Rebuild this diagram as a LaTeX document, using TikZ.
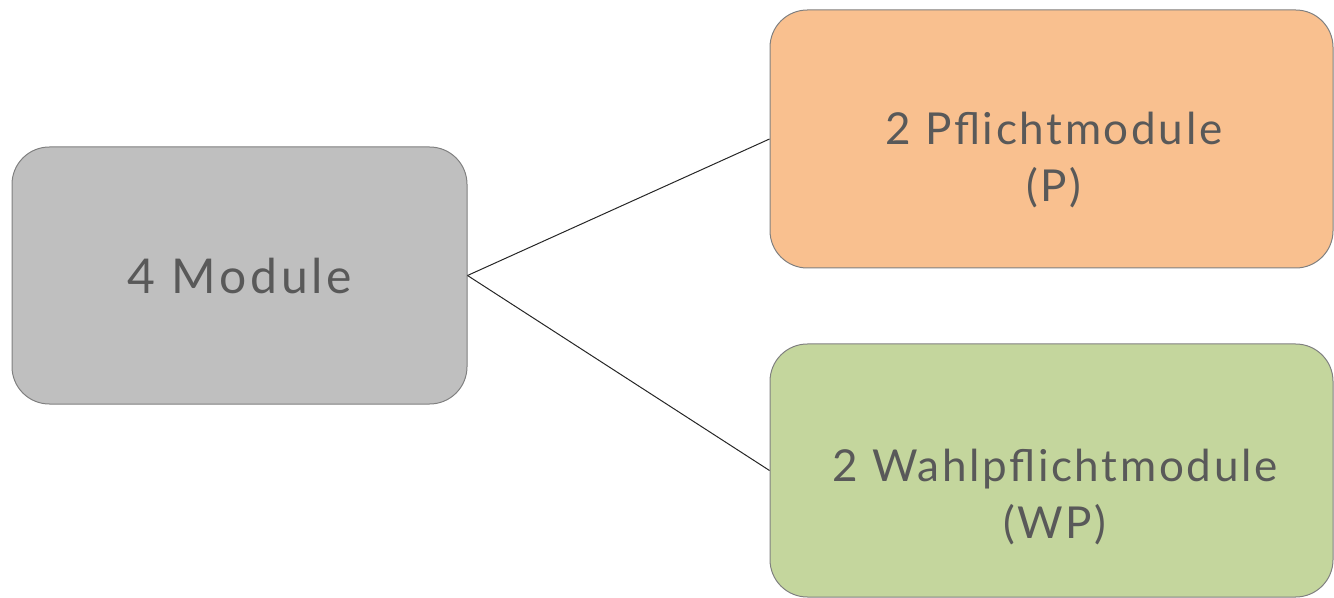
\documentclass[tikz,border=0pt]{standalone}
\usepackage{fontspec}
\setsansfont{Lato}[LetterSpace=8]
\newfontfamily\sidefont{Lato}[LetterSpace=6]
\definecolor{boxgray}{RGB}{191,191,191}
\definecolor{boxorange}{RGB}{249,192,143}
\definecolor{boxgreen}{RGB}{196,214,157}
\definecolor{txtgray}{RGB}{89,89,89}
\definecolor{linegray}{RGB}{128,128,128}
\tikzset{every picture/.style={line width=0.75pt}}
\tikzset{modbox/.style={draw=linegray, rounded corners=28pt, inner sep=0pt},
         modtext/.style={align=center, text=txtgray, font=\sffamily\fontsize{36}{42.75}\selectfont, inner sep=0pt},
         sidetext/.style={modtext, font=\sidefont\fontsize{33}{42.75}\selectfont}}

\begin{document}
\begin{tikzpicture}[x=0.75pt,y=0.75pt,yscale=-1,xscale=1]
\useasboundingbox (0,0) rectangle (1334,598);

%Rounded Rect: 4 Module
\node [modbox, fill=boxgray, minimum width=341.25pt, minimum height=192.75pt] (mod) at (239.5,275.5) {};

%Rounded Rect: Pflicht
\node [modbox, fill=boxorange, minimum width=422.25pt, minimum height=193.5pt] (pf) at (1051.5,139) {};

%Rounded Rect: Wahlpflicht
\node [modbox, fill=boxgreen, minimum width=422.25pt, minimum height=189.75pt] (wp) at (1051.5,470.5) {};

%Straight Lines
\draw [color=black!85] (mod.east) -- (pf.west) ;
\draw [color=black!85] (mod.east) -- (wp.west) ;

% Text Node
\node [modtext] (modtxt) at (240,276) {4 Module};
% Text Node
\node [sidetext] (pftxt) at (1054,160) {2 Pflichtmodule\\(P)};
% Text Node
\node [sidetext] (wptxt) at (1055,497) {2 Wahlpflichtmodule\\(WP)};

\end{tikzpicture}
\end{document}
